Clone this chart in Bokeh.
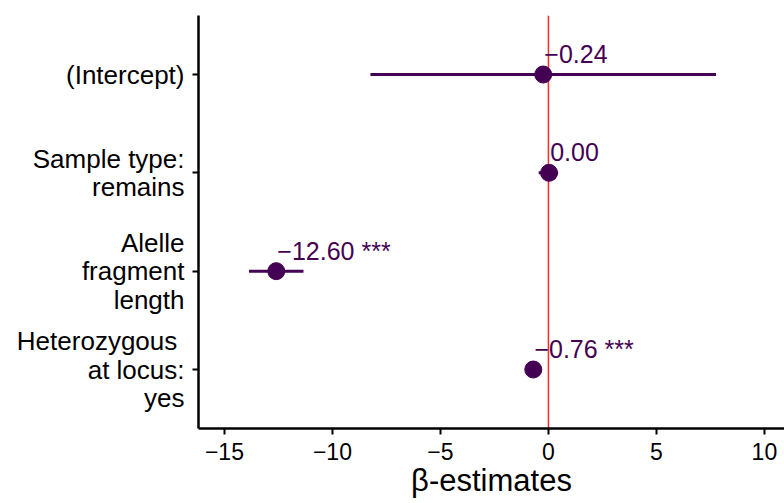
from bokeh.plotting import figure
from bokeh.models import ColumnDataSource, Span, FixedTicker, Range1d
from bokeh.core.properties import value
from bokeh.transform import dodge
from bokeh.embed import file_html
from bokeh.resources import INLINE

terms = ["(Intercept)", "Sample type:\nremains", "Alelle\nfragment\nlength", "Heterozygous \nat locus:\nyes"]
estimates = [-0.24, 0.03, -12.60, -0.70]
ci_low = [-8.24, -0.45, -13.86, -0.90]
ci_high = [7.76, 0.45, -11.34, -0.50]
value_labels = ["\u22120.24", "0.00", "\u221212.60 ***", "\u22120.76 ***"]
x_ticks = [-15, -10, -5, 0, 5, 10]

ypos = [len(terms) - i for i in range(len(terms))]

src = ColumnDataSource(dict(y=ypos, est=estimates, lo=ci_low, hi=ci_high, lab=value_labels))

FONT = "Liberation Sans"
PURPLE = "#440154"

p = figure(width=784, height=503, output_backend="svg", toolbar_location=None,
           x_range=Range1d(-16.2, 10.93), y_range=Range1d(0.4, 4.6),
           min_border_left=198, min_border_right=0, min_border_top=15, min_border_bottom=75)
p.outline_line_color = None
p.xgrid.visible = False
p.ygrid.visible = False
p.background_fill_color = "white"
p.border_fill_color = "white"

p.add_layout(Span(location=0, dimension="height", line_color="#FF2A2A", line_width=1.5, level="underlay"))

p.segment(x0="lo", y0="y", x1="hi", y1="y", source=src, line_color=PURPLE, line_width=3)
p.scatter(x="est", y="y", source=src, size=17, fill_color=PURPLE, line_color=PURPLE)
p.text(x=dodge("est", 0.05, range=p.x_range), y=dodge("y", 0.21, range=p.y_range), text="lab", source=src,
       text_font=value(FONT), text_font_size="25px",
       text_color=PURPLE, text_align="left", text_baseline="alphabetic")

# x axis
xa = p.xaxis[0]
xa.ticker = FixedTicker(ticks=x_ticks)
xa.minor_tick_line_color = None
xa.major_tick_in = 0
xa.major_tick_out = 6
xa.major_tick_line_width = 2
xa.major_tick_line_color = "black"
xa.axis_line_width = 2.5
xa.axis_line_color = "black"
xa.major_label_text_font = FONT
xa.major_label_text_font_size = "23px"
xa.major_label_text_color = "black"
xa.major_label_standoff = 8
xa.major_label_overrides = {t: (str(t) if t >= 0 else "\u2212" + str(-t)) for t in x_ticks}
xa.axis_label = "\u03b2-estimates"
xa.axis_label_text_font = FONT
xa.axis_label_text_font_size = "31px"
xa.axis_label_text_font_style = "normal"
xa.axis_label_text_color = "black"
xa.axis_label_standoff = 0

# y axis
ya = p.yaxis[0]
ya.ticker = FixedTicker(ticks=ypos)
ya.major_label_overrides = {y: t for y, t in zip(ypos, terms)}
ya.minor_tick_line_color = None
ya.major_tick_in = 0
ya.major_tick_out = 6
ya.major_tick_line_width = 2
ya.major_tick_line_color = "black"
ya.axis_line_width = 2.5
ya.axis_line_color = "black"
ya.major_label_text_font = FONT
ya.major_label_text_font_size = "26px"
ya.major_label_text_color = "black"
ya.major_label_standoff = 8
ya.major_label_text_line_height = 0.95

open("out.html", "w").write(file_html(p, INLINE))
